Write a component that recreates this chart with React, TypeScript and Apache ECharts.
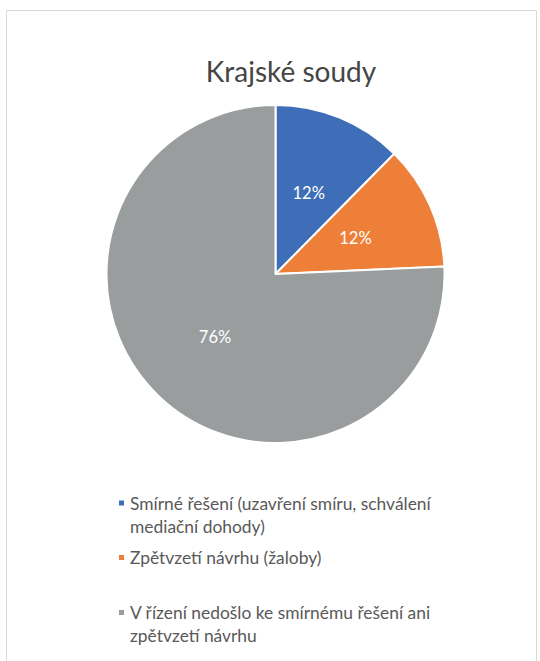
import React, { useEffect, useRef } from "react";
import * as echarts from "echarts";

const titleText = "Krajské soudy";
const categories = [
  "Smírné řešení (uzavření smíru, schválení mediační dohody)",
  "Zpětvzetí návrhu (žaloby)",
  "V řízení nedošlo ke smírnému řešení ani zpětvzetí návrhu",
];
const legendLabels = [
  "Smírné řešení (uzavření smíru, schválení\nmediační dohody)",
  "Zpětvzetí návrhu (žaloby)",
  "V řízení nedošlo ke smírnému řešení ani\nzpětvzetí návrhu",
];
const values = [12.4, 11.9, 75.7];
const colors = ["#3F6EB8", "#EE7F38", "#9A9D9D"];

export default function App() {
  const ref = useRef<HTMLDivElement>(null);
  useEffect(() => {
    document.body.style.margin = "0";
    const chart = echarts.init(ref.current!, null, { renderer: "svg" });
    const font = "Lato";
    const legendTops = [491.5, 546, 601];
    const legends = categories.map((name, i) => {
      const twoLine = legendLabels[i].includes("\n");
      return {
        orient: "vertical",
        left: 117,
        top: legendTops[i],
        padding: 0,
        itemWidth: 7,
        itemHeight: twoLine ? 30 : 7,
        itemGap: 0,
        icon: twoLine ? "path://M0,0H7V7H0Z M0,30L0,30" : "rect",
        selectedMode: false,
        data: [name],
        formatter: (n: string) => legendLabels[categories.indexOf(n)],
        textStyle: {
          fontFamily: font,
          fontSize: 17.4,
          color: "#595959",
          lineHeight: 23,
        },
      };
    });
    chart.setOption({
      animation: false,
      color: colors,
      title: {
        text: titleText,
        left: 286,
        top: 52,
        textAlign: "center",
        textStyle: {
          fontFamily: font,
          fontSize: 28,
          fontWeight: "normal",
          color: "#454545",
        },
      },
      graphic: [
        {
          type: "rect",
          shape: { x: 6.5, y: 10.5, width: 530, height: 700 },
          style: { fill: "none", stroke: "#D9D9D9", lineWidth: 1 },
          silent: true,
        },
      ],
      legend: legends,
      series: [
        {
          type: "pie",
          center: [275.5, 274],
          radius: [0, 169],
          startAngle: 90,
          clockwise: true,
          avoidLabelOverlap: false,
          itemStyle: { borderColor: "#ffffff", borderWidth: 2 },
          label: {
            show: true,
            position: "inside",
            formatter: (p: any) => Math.round(p.percent) + "%",
            color: "#ffffff",
            fontFamily: font,
            fontSize: 16.5,
          },
          labelLine: { show: false },
          emphasis: { disabled: true },
          data: categories.map((name, i) => ({ name, value: values[i] })),
        },
      ],
    });
    return () => chart.dispose();
  }, []);
  return <div ref={ref} style={{ width: 540, height: 661 }} />;
}
